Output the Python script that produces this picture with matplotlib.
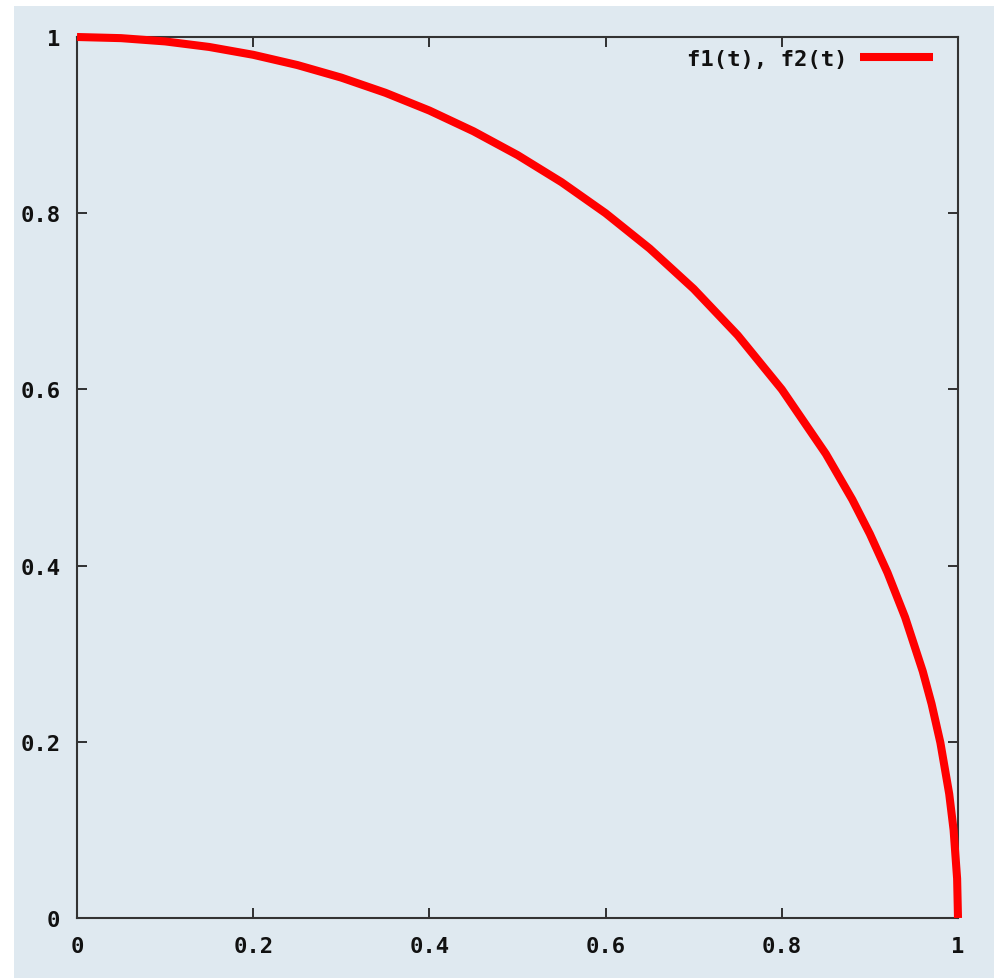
import matplotlib
matplotlib.use("Agg")
import matplotlib.pyplot as plt
from matplotlib.patches import Rectangle

# Data (parametric curve f1(t), f2(t))
f1_vals = [0.0, 0.05, 0.1, 0.15, 0.2, 0.25, 0.3, 0.35, 0.4, 0.45, 0.5, 0.55,
           0.6, 0.65, 0.7, 0.75, 0.8, 0.85, 0.88, 0.9, 0.92, 0.94, 0.96, 0.97,
           0.98, 0.99, 0.995, 0.999, 1.0]
f2_vals = [1.0, 0.9987, 0.995, 0.9887, 0.9798, 0.9682, 0.9539, 0.9367, 0.9165,
           0.893, 0.866, 0.8352, 0.8, 0.7599, 0.7141, 0.6614, 0.6, 0.5268,
           0.475, 0.4359, 0.3919, 0.3412, 0.28, 0.2431, 0.199, 0.141, 0.0999,
           0.0447, 0.0]
x_ticks = [0, 0.2, 0.4, 0.6, 0.8, 1]
y_ticks = [0, 0.2, 0.4, 0.6, 0.8, 1]
x_tick_labels = ["0", "0.2", "0.4", "0.6", "0.8", "1"]
y_tick_labels = ["0", "0.2", "0.4", "0.6", "0.8", "1"]
legend_label = "f1(t), f2(t)"

W, H = 994, 979
fig = plt.figure(figsize=(W / 100, H / 100), dpi=100, facecolor="white")
bg = "#dfe9f0"
fig.patches.append(Rectangle((14 / W, 0), 1 - 14 / W, 1 - 7 / H,
                             transform=fig.transFigure, facecolor=bg,
                             edgecolor="none", zorder=-10))

left, right, top, bottom = 77, 958, 38, 919
ax = fig.add_axes([left / W, 1 - bottom / H, (right - left) / W, (bottom - top) / H])
ax.set_facecolor(bg)

ax.plot(f1_vals, f2_vals, color="#ff0000", lw=5.8, solid_capstyle="butt",
        clip_on=False, zorder=5, label=legend_label)

ax.set_xlim(0, 1)
ax.set_ylim(0, 1)
ax.set_xticks(x_ticks)
ax.set_xticklabels(x_tick_labels)
ax.set_yticks(y_ticks)
ax.set_yticklabels(y_tick_labels)

for s in ax.spines.values():
    s.set_color("#333333")
    s.set_linewidth(1.5)

FS = 16
ax.tick_params(direction="in", length=7, width=1.3, color="#222222",
               top=True, right=True, labelsize=FS)
ax.tick_params(axis="x", pad=13)
ax.tick_params(axis="y", pad=12)
for lab in ax.get_xticklabels() + ax.get_yticklabels():
    lab.set_fontfamily("DejaVu Sans Mono")
    lab.set_fontweight("bold")
    lab.set_color("#111111")

leg = ax.legend(loc="center right", bbox_to_anchor=(0.9716, 0.9755),
                frameon=False, markerfirst=False, handlelength=3.3,
                handletextpad=0.55, borderaxespad=0, borderpad=0,
                prop=dict(family="DejaVu Sans Mono", weight="bold", size=FS))
for t in leg.get_texts():
    t.set_color("#111111")

fig.savefig("out.png", dpi=100, facecolor="white")
